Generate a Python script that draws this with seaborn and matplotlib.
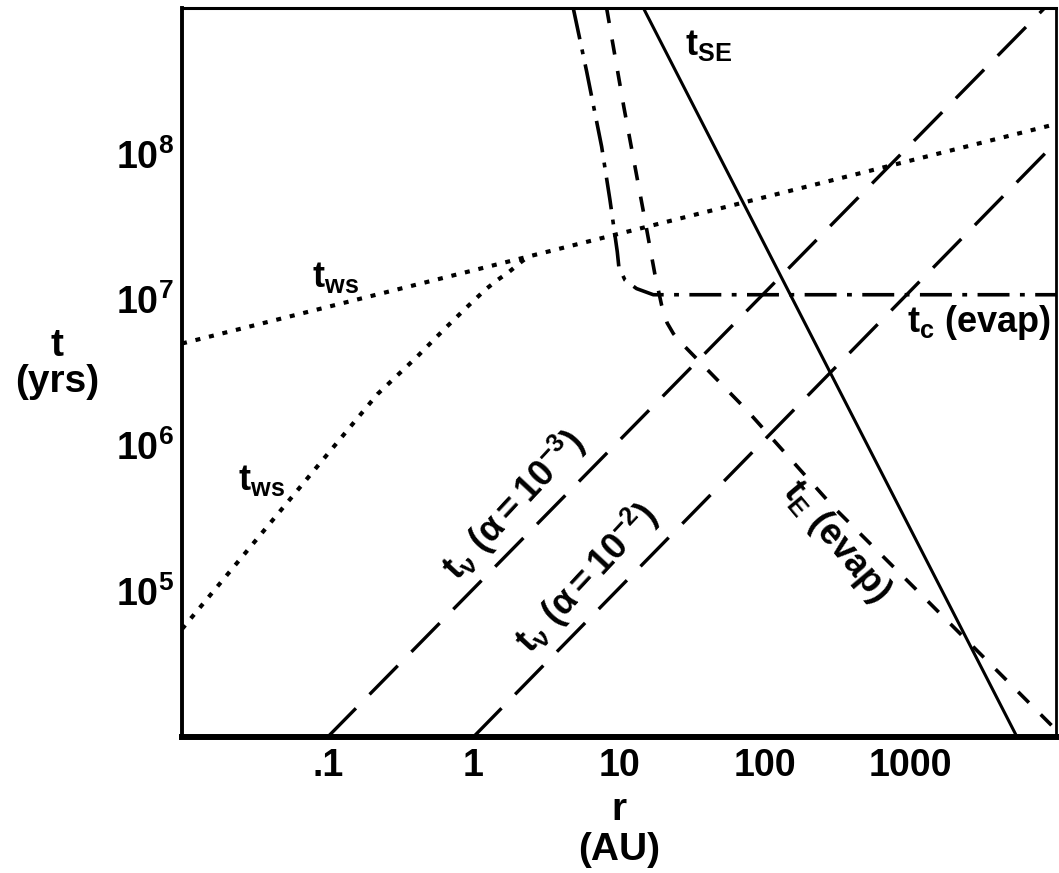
import matplotlib
matplotlib.use("Agg")
import matplotlib.pyplot as plt
from matplotlib.ticker import NullLocator
import seaborn as sns

# ---- timescales versus disk radius (r in AU, t in years) ----
# stellar-encounter time
r_se = [14.7, 5400.0]
t_se = [1.0e9, 1.0e4]

# viscous time for two values of alpha
r_visc_a3 = [0.1, 1.0e4]
t_visc_a3 = [1.0e4, 1.2e9]
r_visc_a2 = [1.0, 1.0e4]
t_visc_a2 = [1.0e4, 1.2e8]

# wind-stripping time: outer branch and inner branch
r_ws_outer = [0.01, 1.0e4]
t_ws_outer = [5.0e6, 1.6e8]
r_ws_inner = [0.01, 0.22, 0.41, 0.64, 0.90, 1.22, 1.46, 1.76, 2.14, 2.4]
t_ws_inner = [5.5e4, 2.25e6, 4.05e6, 6.35e6, 8.85e6, 1.18e7, 1.36e7, 1.55e7, 1.82e7, 1.98e7]

# evaporation: coagulation time and evaporation time
r_c = [4.85, 6.0, 7.6, 8.67, 9.73, 9.98, 11.0, 13.2, 17.2, 1.0e4]
t_c = [1.0e9, 3.66e8, 1.12e8, 4.82e7, 2.13e7, 1.67e7, 1.36e7, 1.19e7, 1.08e7, 1.08e7]
r_e = [8.22, 10.8, 14.7, 17.6, 19.6, 21.4, 23.6, 25.6, 75.2, 295.0, 1104.0, 1.0e4]
t_e = [1.0e9, 2.09e8, 4.02e7, 1.51e7, 9.18e6, 6.92e6, 5.85e6, 5.28e6, 1.75e6, 3.8e5, 1.02e5, 1.12e4]

# axis ticks
x_ticks = [0.1, 1, 10, 100, 1000]
x_tick_labels = [".1", "1", "10", "100", "1000"]
y_ticks = [1e5, 1e6, 1e7, 1e8]
y_tick_labels = [r"$10^{5}$", r"$10^{6}$", r"$10^{7}$", r"$10^{8}$"]

sns.set_theme(style="white")
FONT = "Liberation Sans"
plt.rcParams["font.family"] = [FONT, "DejaVu Sans"]
plt.rcParams["font.weight"] = "bold"
plt.rcParams["mathtext.fontset"] = "custom"
for key in ("rm", "it", "bf", "sf"):
    plt.rcParams["mathtext." + key] = FONT + ":bold"
plt.rcParams["mathtext.default"] = "regular"
plt.rcParams["lines.scale_dashes"] = False

TICK_FS = 27
LABEL_FS = 26
AXIS_FS = 28

fig = plt.figure(figsize=(10.59, 8.73), dpi=100)
ax = fig.add_axes([0.17186, 0.15578, 0.82531, 0.83505])
ax.set_xscale("log")
ax.set_yscale("log")
ax.set_xlim(0.01, 1.0e4)
ax.set_ylim(1.0e4, 1.0e9)

common = dict(ax=ax, color="black", estimator=None, sort=False, legend=False)
sns.lineplot(x=r_se, y=t_se, lw=2.2, linestyle="-", **common)
sns.lineplot(x=r_visc_a3, y=t_visc_a3, lw=2.4, linestyle=(0, (29, 14)), **common)
sns.lineplot(x=r_visc_a2, y=t_visc_a2, lw=2.4, linestyle=(0, (29, 14)), **common)
sns.lineplot(x=r_ws_outer, y=t_ws_outer, lw=3.0, linestyle=(0, (3.6, 6.4)), **common)
sns.lineplot(x=r_ws_inner, y=t_ws_inner, lw=3.0, linestyle=(0, (3.6, 6.4)), **common)
sns.lineplot(x=r_c, y=t_c, lw=2.6, linestyle=(0, (23, 7.5, 3.5, 7.5)), **common)
sns.lineplot(x=r_e, y=t_e, lw=2.6, linestyle=(0, (11, 12)), **common)

# curve labels
txt = dict(fontsize=LABEL_FS, color="black", fontweight="bold")
ax.text(28.3, 4.77e8, r"$t_{SE}$", ha="left", va="baseline", **txt)
ax.text(950, 6.0e6, r"$t_{c}$ (evap)", ha="left", va="baseline", **txt)
ax.text(0.078, 1.22e7, r"$t_{ws}$", ha="left", va="baseline", **txt)
ax.text(0.0242, 4.94e5, r"$t_{ws}$", ha="left", va="baseline", **txt)
ax.text(1.87, 3.9e5, r"$t_{\nu}\ (\alpha = 10^{-3})$", ha="center", va="center",
        rotation=47, rotation_mode="anchor", **txt)
ax.text(5.93, 1.23e5, r"$t_{\nu}\ (\alpha = 10^{-2})$", ha="center", va="center",
        rotation=47, rotation_mode="anchor", **txt)
ax.text(308, 2.17e5, r"$t_{E}$ (evap)", ha="center", va="center",
        rotation=-50, rotation_mode="anchor", **txt)

# ticks and axis labels
ax.set_xticks(x_ticks)
ax.set_xticklabels(x_tick_labels)
ax.set_yticks(y_ticks)
ax.set_yticklabels(y_tick_labels)
ax.xaxis.set_minor_locator(NullLocator())
ax.yaxis.set_minor_locator(NullLocator())
ax.tick_params(axis="both", which="major", direction="in", length=13, width=2.2,
               color="black", labelcolor="black", labelsize=TICK_FS)
ax.tick_params(axis="x", pad=8)
ax.tick_params(axis="y", pad=6)
for lab in ax.get_xticklabels() + ax.get_yticklabels():
    lab.set_fontweight("bold")

ax.set_xlabel("r\n(AU)", fontsize=AXIS_FS, fontweight="bold", linespacing=1.15, color="black")
ax.xaxis.set_label_coords(0.5, -0.0756)
ax.set_ylabel("t\n(yrs)", fontsize=AXIS_FS, fontweight="bold", rotation=0, ha="center",
              va="center", linespacing=1.0, color="black")
ax.yaxis.set_label_coords(-0.143, 0.512)

for side, w in (("left", 2.8), ("bottom", 4.3), ("top", 2.2), ("right", 2.0)):
    ax.spines[side].set_color("black")
    ax.spines[side].set_linewidth(w)

fig.savefig("out.png", dpi=100, facecolor="white")
